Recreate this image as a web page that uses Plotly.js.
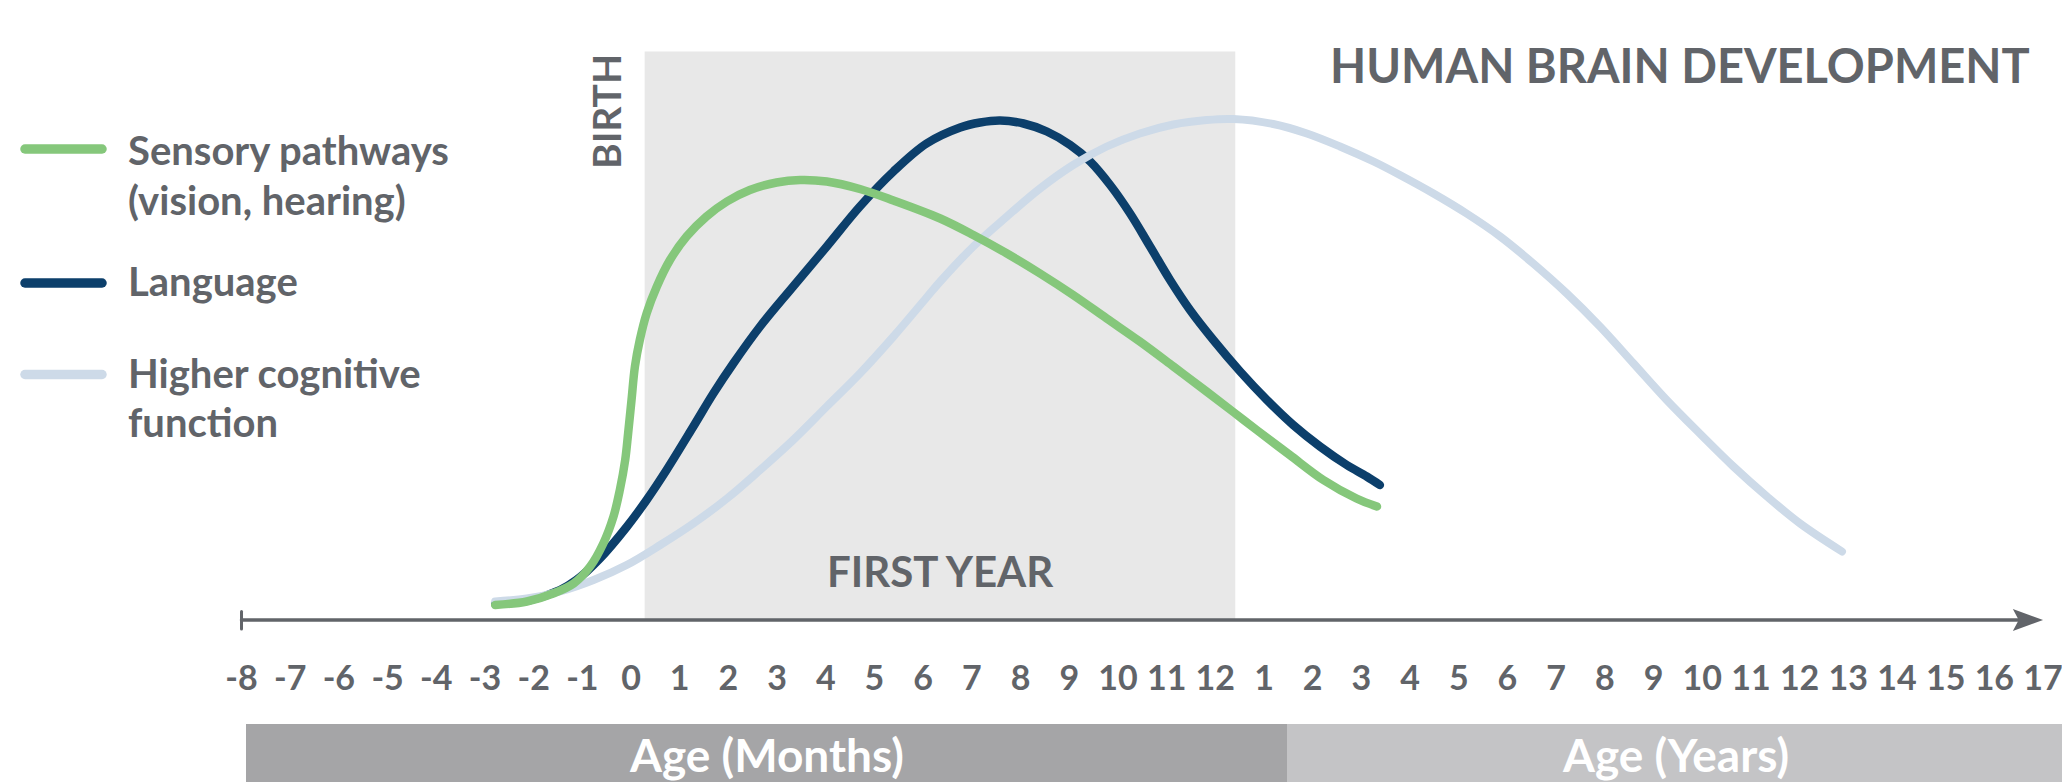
<!DOCTYPE html>
<html>
<head>
<meta charset="utf-8">
<script src="https://cdn.plot.ly/plotly-3.0.1.min.js"></script>
<style>
html,body{margin:0;padding:0;background:#ffffff;}
#chart{width:2062px;height:782px;}
.js-line{stroke-linecap:round;stroke-linejoin:round;}
.shapelayer path{stroke-linecap:round;}
</style>
</head>
<body>
<div id="chart"></div>
<script>
// ---- tick labels (months before/after birth, then years) ----
const monthLabels = ['-8','-7','-6','-5','-4','-3','-2','-1','0','1','2','3','4','5','6','7','8','9','10','11','12'];
const yearLabels = ['1','2','3','4','5','6','7','8','9','10','11','12','13','14','15','16','17'];
const tickLabels = monthLabels.concat(yearLabels);
const tickPositions = tickLabels.map((_, i) => i);

// ---- series (x = position along the age axis, in tick steps; y = relative development) ----
const sensoryX = [5.21, 5.86, 6.40, 6.82, 7.16, 7.43, 7.64, 7.77, 7.88, 7.94, 8.01, 8.08, 8.18, 8.32, 8.53, 8.80, 9.14, 9.55, 9.97, 10.44, 10.99, 11.47, 12.02, 12.70, 13.39, 14.35, 15.03, 15.72, 16.40, 17.08, 17.77, 18.45, 19.14, 19.82, 20.37, 20.85, 21.53, 22.22, 22.90, 23.32];
const sensoryY = [3.0, 3.7, 5.3, 7.3, 10.7, 15.3, 20.7, 26.0, 32.0, 37.3, 44.0, 50.7, 56.0, 61.3, 66.7, 72.0, 76.7, 80.7, 83.7, 86.0, 87.5, 88.0, 87.7, 86.2, 83.9, 80.3, 77.0, 73.3, 69.3, 65.0, 60.3, 55.7, 50.7, 45.7, 41.6, 38.0, 33.0, 28.0, 24.3, 22.7];

const languageX = [5.21, 5.93, 6.54, 6.88, 7.36, 7.91, 8.32, 8.73, 9.28, 9.69, 10.10, 10.65, 11.33, 12.02, 12.70, 13.39, 14.07, 14.76, 15.17, 15.58, 16.06, 16.54, 17.02, 17.43, 17.84, 18.25, 18.66, 19.07, 19.48, 19.96, 20.51, 21.06, 21.60, 22.15, 22.70, 23.11, 23.38];
const languageY = [3.2, 4.0, 6.0, 8.0, 12.3, 18.6, 24.0, 30.0, 38.7, 45.3, 51.3, 58.7, 66.7, 74.7, 82.7, 89.7, 95.3, 98.5, 99.5, 99.9, 99.3, 97.7, 95.0, 91.7, 87.0, 81.3, 74.7, 68.0, 62.0, 56.0, 49.7, 44.0, 39.0, 34.7, 31.0, 28.7, 27.0];

const cognitiveX = [5.21, 5.86, 6.54, 7.23, 7.91, 8.60, 9.28, 9.97, 10.65, 11.33, 12.02, 12.70, 13.39, 14.07, 14.35, 15.03, 15.72, 16.40, 17.08, 17.77, 18.45, 19.14, 19.82, 20.37, 21.19, 21.88, 22.56, 23.25, 23.79, 24.48, 25.16, 25.85, 26.53, 27.22, 27.90, 28.59, 29.27, 29.96, 30.64, 31.33, 32.01, 32.87];
const cognitiveY = [3.7, 4.3, 5.7, 8.0, 11.0, 15.0, 19.3, 24.3, 30.0, 36.0, 42.7, 49.3, 56.7, 64.5, 67.7, 74.7, 80.7, 86.3, 91.0, 94.7, 97.3, 99.1, 100.0, 100.2, 99.2, 97.3, 94.7, 91.7, 89.0, 85.3, 81.3, 76.7, 71.3, 65.3, 58.7, 51.3, 44.0, 37.2, 30.7, 24.7, 19.3, 13.7];

const seriesNames = ['Sensory pathways (vision, hearing)', 'Language', 'Higher cognitive function'];
const legendLines = [['Sensory pathways', '(vision, hearing)'], ['Language'], ['Higher cognitive', 'function']];

// ---- styling ----
const W = 2062, H = 782;
const GREEN = '#85C77B', NAVY = '#0C3F6B', LIGHT = '#CDDAE8';
const TEXT = '#616469';
const FONT = 'Lato, "Open Sans", sans-serif';
const px = v => v / W;
const py = v => 1 - v / H;

const lineStyle = (c, w) => ({color: c, width: w, shape: 'spline', smoothing: 1});

const traces = [
  {x: languageX, y: languageY, name: seriesNames[1], type: 'scatter', mode: 'lines', line: lineStyle(NAVY, 8.5), hoverinfo: 'skip'},
  {x: cognitiveX, y: cognitiveY, name: seriesNames[2], type: 'scatter', mode: 'lines', line: lineStyle(LIGHT, 8), hoverinfo: 'skip'},
  {x: sensoryX, y: sensoryY, name: seriesNames[0], type: 'scatter', mode: 'lines', line: lineStyle(GREEN, 8.5), hoverinfo: 'skip'}
];

const legendColors = [GREEN, NAVY, LIGHT];
const legendLineY = [149, 283, 374.5];
const legendTextY = [[149.5, 200], [280.5], [373, 421.5]];

const shapes = [
  // first year shading
  {type: 'rect', xref: 'x', yref: 'y', x0: 8.28, x1: 20.41, y0: 0, y1: 113.7, fillcolor: '#E8E8E8', line: {width: 0}, layer: 'below'},
  // axis line, start tick, arrow head
  {type: 'line', xref: 'x', yref: 'y', x0: 0, x1: 36.6, y0: 0, y1: 0, line: {color: TEXT, width: 3.5}},
  {type: 'line', xref: 'x', yref: 'y', x0: 0, x1: 0, y0: -1.8, y1: 1.7, line: {color: TEXT, width: 3}},
  {type: 'path', xref: 'x', yref: 'y', path: 'M 36.38 2.2 L 37.0 0 L 36.38 -2.2 L 36.5 0 Z', fillcolor: TEXT, line: {width: 0}},
  // bottom bands
  {type: 'rect', xref: 'paper', yref: 'paper', x0: px(246), x1: px(1287), y0: -0.2, y1: py(724), fillcolor: '#A5A5A7', line: {width: 0}},
  {type: 'rect', xref: 'paper', yref: 'paper', x0: px(1287), x1: 1.01, y0: -0.2, y1: py(724), fillcolor: '#C4C4C6', line: {width: 0}}
];
legendColors.forEach((c, i) => {
  shapes.push({type: 'line', xref: 'paper', yref: 'paper', x0: px(25), x1: px(102), y0: py(legendLineY[i]), y1: py(legendLineY[i]), line: {color: c, width: 9.5}});
});

const annotations = [];
legendLines.forEach((lines, i) => {
  lines.forEach((t, j) => {
    annotations.push({text: t, xref: 'paper', yref: 'paper', x: px(127), y: py(legendTextY[i][j]), xanchor: 'left', yanchor: 'middle', showarrow: false,
      borderpad: 0, font: {family: FONT, size: 40, color: TEXT, weight: 700}});
  });
});
annotations.push({text: 'BIRTH', xref: 'paper', yref: 'paper', x: px(606), y: py(112), textangle: -90, xanchor: 'center', yanchor: 'middle', showarrow: false,
  font: {family: FONT, size: 39, color: TEXT, weight: 700}});
annotations.push({text: 'FIRST YEAR', xref: 'paper', yref: 'paper', x: px(940), y: py(571), xanchor: 'center', yanchor: 'middle', showarrow: false,
  font: {family: FONT, size: 42, color: TEXT, weight: 700}});
annotations.push({text: 'Age (Months)', xref: 'paper', yref: 'paper', x: px(766), y: py(754), xanchor: 'center', yanchor: 'middle', showarrow: false,
  borderpad: 0, font: {family: FONT, size: 46, color: '#FFFFFF', weight: 700}});
annotations.push({text: 'Age (Years)', xref: 'paper', yref: 'paper', x: px(1675), y: py(754), xanchor: 'center', yanchor: 'middle', showarrow: false,
  borderpad: 0, font: {family: FONT, size: 46, color: '#FFFFFF', weight: 700}});

const layout = {
  width: W, height: H,
  margin: {l: 0, r: 0, t: 0, b: 0, pad: 0},
  paper_bgcolor: '#FFFFFF', plot_bgcolor: 'rgba(0,0,0,0)',
  showlegend: false,
  title: {text: 'HUMAN BRAIN DEVELOPMENT', x: px(1330), xanchor: 'left', xref: 'paper', y: py(67), yanchor: 'middle', yref: 'container',
    font: {family: FONT, size: 47, color: TEXT, weight: 700}},
  xaxis: {range: [-4.960, 37.389], tickmode: 'array', tickvals: tickPositions, ticktext: tickLabels,
    tickfont: {family: FONT, size: 34, color: TEXT, weight: 700},
    showgrid: false, zeroline: false, showline: false, ticks: '', anchor: 'free', position: 1 - 620 / H,
    ticklabelstandoff: 35, ticklabeloverflow: 'allow', fixedrange: true},
  yaxis: {range: [-32.4, 124], visible: false, fixedrange: true},
  shapes: shapes,
  annotations: annotations
};

Plotly.newPlot('chart', traces, layout, {displayModeBar: false, staticPlot: true});
</script>
</body>
</html>
